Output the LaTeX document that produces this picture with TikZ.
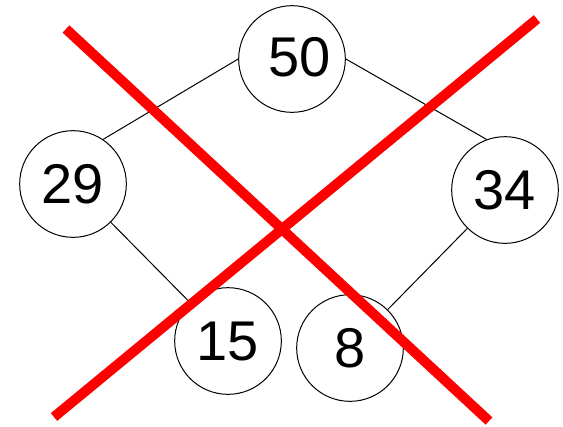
\documentclass[tikz,border=0pt]{standalone}
\usepackage{fontspec}
\setmainfont{Liberation Sans}
\tikzset{
  vertex/.style={draw,circle,line width=0.75pt,minimum size=80pt,inner sep=0pt,font=\fontsize{42}{42}\selectfont},
  cross/.style={draw=red,line width=7.5pt}
}
\begin{document}
\begin{tikzpicture}[x=0.75pt,y=-0.75pt]
\useasboundingbox (0,0) rectangle (563,426);
\node[vertex,label={[font=\fontsize{42}{42}\selectfont,xshift=6pt,yshift=1pt]center:50}] (n50) at (292,59) {};
\node[vertex] (n29) at (73,184) {29};
\node[vertex] (n34) at (505,190) {34};
\node[vertex] (n15) at (228,341) {15};
\node[vertex] (n8) at (350,348) {8};
\draw[line width=0.75pt] (n50.west)--(n29.56);
\draw[line width=0.75pt] (n50.east)--(n34.110);
\draw[line width=0.75pt] (n29)--(n15);
\draw[line width=0.75pt] (n34)--(n8);

\coordinate (a1) at (66,29);
\coordinate (a2) at (489,421);
\coordinate (b1) at (54,417);
\coordinate (b2) at (537,19);
\draw[cross] (a1)--(a2);
\draw[cross] (b1)--(b2);
\end{tikzpicture}
\end{document}
